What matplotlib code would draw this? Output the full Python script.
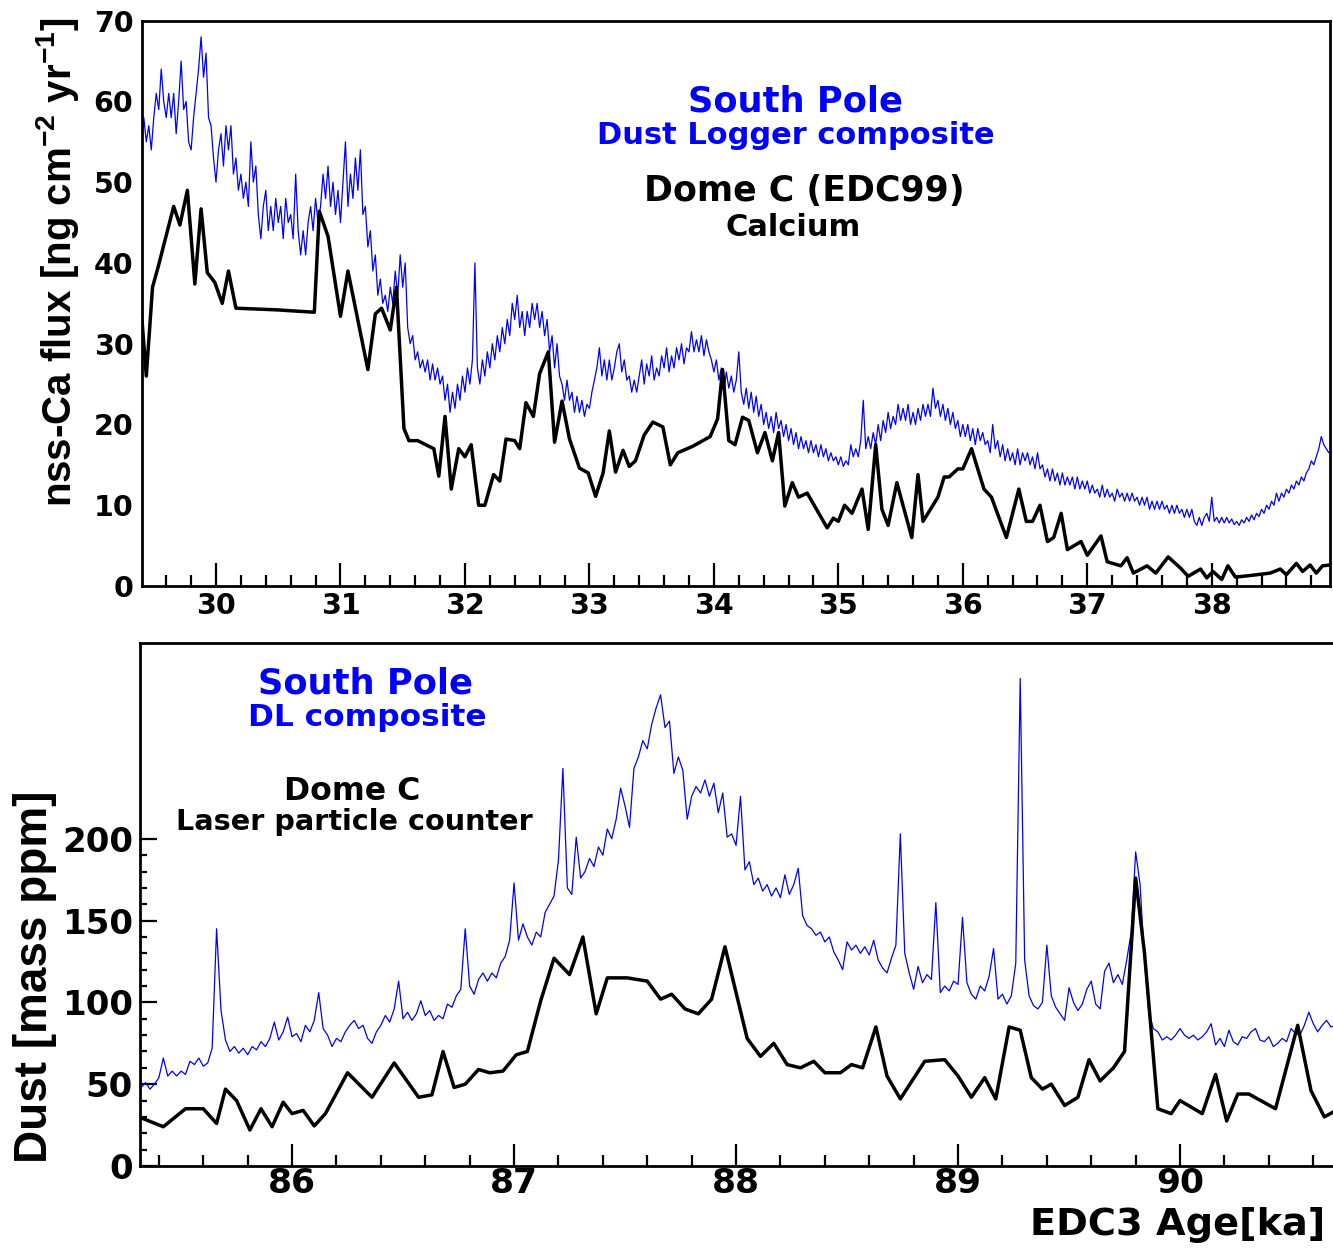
import numpy as np
import matplotlib
matplotlib.use("Agg")
import matplotlib.pyplot as plt
from matplotlib.ticker import MultipleLocator, FixedLocator

plt.rcParams['font.family'] = ['DejaVu Sans']
plt.rcParams['font.weight'] = 'bold'
plt.rcParams['mathtext.fontset'] = 'custom'
plt.rcParams['mathtext.rm'] = 'Liberation Sans:bold'
plt.rcParams['mathtext.it'] = 'Liberation Sans:bold'
plt.rcParams['mathtext.bf'] = 'Liberation Sans:bold'

# ---- top panel: South Pole dust logger composite (nss-Ca flux), 0.02 ka grid
sp_ca_start = 29.40
sp_ca_step = 0.02
sp_ca = [
    54, 58, 55, 57, 54, 58, 61, 59, 64, 60, 58, 61, 58, 61, 56, 60, 65, 59, 60, 55,
    54, 58, 61, 64, 68, 63, 66, 58, 57, 53, 50, 54, 56, 52, 57, 54, 57, 51, 53, 49,
    51, 48, 50, 47, 55, 50, 52, 46, 43, 47, 49, 44, 47, 44, 48, 45, 47, 43, 48, 45,
    46, 43, 51, 44, 41, 44, 41, 45, 47, 44, 48, 45, 47, 51, 48, 52, 47, 50, 46, 49,
    45, 50, 55, 47, 51, 48, 53, 49, 54, 46, 47, 42, 44, 39, 41, 36, 38, 35, 36, 34,
    37, 35, 39, 36, 41, 37, 40, 32, 30, 31, 28, 29, 27, 28, 26.5, 28, 25.5, 27.5, 25.5, 27,
    25, 26, 23, 25, 21.5, 24, 22, 25, 23, 26, 24, 27, 25, 28, 40, 27, 25, 28, 26, 29,
    27, 30, 28, 31, 29, 32, 30, 33, 31, 35, 33, 36, 32, 34, 31, 34, 32, 35, 33, 35,
    32, 34, 31, 33, 29, 31, 27, 30, 26, 25, 23, 25.5, 23, 24, 21.5, 23.5, 21.5, 23, 21, 22.5,
    22, 24, 25.5, 27, 29.5, 26, 28, 25.5, 28, 25.5, 27, 29, 30, 26.5, 28, 25.5, 26, 24, 25.5, 24,
    26, 28, 25, 27.5, 26, 28.5, 25.5, 27, 26, 28.5, 27, 29.5, 26.5, 28.5, 27, 29.5, 28, 30, 27.5, 29.5,
    29, 31.5, 29, 30.5, 29, 31, 28.5, 30.5, 29, 28, 26.5, 28, 25.5, 27, 24, 26.5, 24.5, 26, 24, 25.5,
    29, 24, 22.5, 24.5, 22, 24, 21.5, 23.5, 21, 22.5, 20, 21.5, 19.5, 21, 19, 21.5, 19.5, 20.5, 18.5, 20,
    18, 19.5, 17.5, 19, 17, 18.5, 17, 18, 16.5, 18, 16.5, 17.5, 16, 17.5, 16, 17, 15.5, 16.5, 15.5, 16,
    15, 16, 14.8, 15.5, 15, 17.5, 16, 17, 16, 18, 23, 17, 18.5, 17, 19, 17.5, 20, 18, 20.5, 19,
    21.5, 19.5, 21, 20, 22.5, 20.5, 22, 20.5, 22.5, 20, 21.5, 20, 22, 20.5, 22.5, 21, 22.5, 21, 24.5, 22,
    23, 21, 22.5, 20.5, 22, 20, 21.5, 19.5, 20.5, 18.5, 20, 18.5, 20, 18, 19.5, 17.5, 19.5, 18, 19, 17.5,
    18, 16.5, 20, 17, 18, 16, 17.5, 15.5, 17, 15.5, 16.5, 15, 17, 15, 16.5, 15.5, 16.5, 15, 16, 14.5,
    16.5, 14.5, 15, 13.5, 14.5, 13, 14.5, 13, 14, 12.5, 14, 12.5, 13.5, 12.5, 13.5, 12, 13.5, 12, 13, 12,
    13, 11.5, 12.5, 11.5, 12, 11, 12.5, 11, 12, 11, 11.5, 10.5, 12, 11, 11.5, 10.5, 11.5, 10.5, 11.5, 10.5,
    11, 10, 11, 10, 11, 9.5, 10.5, 9.5, 10.5, 9.5, 10.5, 9.5, 10, 9, 10, 9, 10, 9, 9.5, 8.5,
    9.5, 8.5, 9.5, 8, 7.5, 8.5, 7.5, 8.5, 9, 8, 11, 8, 8.5, 7.8, 8.5, 7.8, 8.5, 7.8, 8.3, 7.6,
    8, 7.5, 8.2, 7.8, 8.5, 8, 8.8, 8.2, 9, 8.6, 9.5, 9, 10, 9.5, 10.5, 10, 11.5, 10.5, 11.5, 11,
    12, 11.5, 12.5, 12, 13, 12.5, 13.5, 13, 14, 14.5, 15.5, 15, 16, 17, 18.5, 17.5, 17, 16.5, 16.5, 16,
]

# ---- top panel: Dome C (EDC99) calcium flux
edc_age = [29.40, 29.44, 29.49, 29.535, 29.66, 29.71, 29.77, 29.83, 29.88, 29.93,
           29.99, 30.05, 30.10, 30.16, 30.48, 30.79, 30.83, 30.90, 31.00, 31.06,
           31.22, 31.28, 31.33, 31.40, 31.45, 31.51, 31.55, 31.62, 31.75, 31.79,
           31.84, 31.89, 31.95, 32.00, 32.05, 32.11, 32.16, 32.23, 32.28, 32.33,
           32.40, 32.44, 32.49, 32.55, 32.60, 32.67, 32.72, 32.78, 32.84, 32.92,
           32.99, 33.05, 33.11, 33.16, 33.21, 33.27, 33.32, 33.37, 33.44, 33.51,
           33.59, 33.65, 33.71, 33.83, 33.97, 34.03, 34.07, 34.12, 34.17, 34.23,
           34.28, 34.35, 34.41, 34.47, 34.52, 34.57, 34.63, 34.68, 34.75, 34.91,
           34.96, 35.00, 35.05, 35.11, 35.19, 35.24, 35.30, 35.35, 35.40, 35.47,
           35.59, 35.64, 35.68, 35.80, 35.85, 35.89, 35.96, 36.00, 36.07, 36.17,
           36.23, 36.35, 36.45, 36.51, 36.56, 36.62, 36.68, 36.73, 36.79, 36.84,
           36.95, 37.00, 37.11, 37.16, 37.27, 37.32, 37.37, 37.48, 37.55, 37.65,
           37.75, 37.81, 37.91, 37.96, 38.01, 38.08, 38.13, 38.19, 38.31, 38.47,
           38.55, 38.60, 38.68, 38.73, 38.79, 38.84, 38.89, 38.95]
edc_ca = [34, 26, 37, 39.5, 47, 44.7, 49, 37.4, 46.7, 38.8,
          37.6, 35, 39, 34.4, 34.2, 33.9, 46.4, 43.3, 33.4, 39,
          26.8, 33.7, 34.4, 31.7, 37, 19.5, 18, 18, 17, 13.6,
          21, 12, 17, 16, 17.5, 10, 10, 13.8, 13, 18.2,
          18, 17, 22.7, 21, 26.3, 29, 17.8, 22.9, 18.2, 14.6,
          14, 11.1, 14, 19.2, 14.1, 16.8, 14.8, 15.5, 18.7, 20.3,
          19.7, 15, 16.5, 17.3, 18.5, 20.7, 26.8, 18, 17.5, 20.9,
          20.5, 16.5, 19, 15.5, 19, 9.9, 12.8, 11, 11.5, 7.2,
          8.4, 8, 10, 9, 12, 7, 17.5, 9.5, 7.5, 12.8,
          6, 13.8, 8, 11, 13.5, 13.5, 14.5, 14.5, 17, 12,
          11, 6, 12, 8, 8, 10, 5.5, 6, 9, 4.5,
          5.5, 3.8, 6.2, 3, 2.5, 3.5, 1.6, 2.5, 1.6, 3.6,
          2.2, 1.2, 2.1, 1, 1.8, 0.8, 2.5, 1.1, 1.3, 1.6,
          2.1, 1.4, 2.8, 1.8, 2.6, 1.6, 2.5, 2.6]

# ---- bottom panel: South Pole DL composite dust, 0.02 ka grid
sp_dust_start = 85.30
sp_dust_step = 0.02
sp_dust = [
    52, 48, 51, 47, 50, 54, 66, 55, 58, 55,
    58, 56, 64, 62, 66, 61, 63, 72, 145, 95,
    77, 70, 73, 69, 72, 68, 73, 71, 76, 73,
    78, 88, 77, 82, 91, 79, 81, 76, 86, 82,
    89, 106, 84, 80, 73, 78, 76, 82, 86, 89,
    84, 86, 78, 75, 82, 86, 92, 88, 96, 113,
    90, 94, 89, 93, 101, 92, 95, 89, 92, 90,
    99, 97, 104, 108, 145, 110, 105, 114, 118, 113,
    118, 115, 124, 128, 138, 173, 138, 148, 140, 135,
    143, 140, 155, 160, 165, 187, 243, 170, 166, 201,
    176, 180, 188, 183, 195, 190, 206, 200, 212, 231,
    220, 207, 243, 250, 260, 255, 270, 280, 288, 268,
    272, 240, 250, 242, 212, 226, 232, 228, 236, 226,
    234, 216, 228, 201, 203, 196, 226, 181, 186, 172,
    176, 168, 172, 165, 170, 164, 178, 166, 172, 182,
    153, 147, 145, 141, 143, 137, 140, 131, 126, 120,
    137, 132, 135, 130, 134, 129, 138, 126, 121, 118,
    127, 135, 203, 130, 118, 108, 122, 112, 117, 114,
    161, 106, 110, 107, 113, 111, 152, 112, 105, 102,
    110, 107, 116, 133, 102, 105, 99, 104, 124, 298,
    126, 104, 98, 96, 100, 135, 104, 97, 93, 89,
    109, 100, 95, 99, 108, 113, 99, 96, 119, 124,
    112, 117, 111, 126, 143, 192, 172, 125, 93, 84,
    82, 77, 79, 77, 80, 84, 80, 78, 80, 77,
    79, 82, 87, 74, 78, 73, 83, 76, 74, 79,
    78, 82, 84, 77, 76, 79, 73, 75, 78, 76,
    84, 81, 80, 86, 94, 87, 82, 86, 89, 85,
    86,
]

# ---- bottom panel: Dome C laser particle counter
lpc_age = [85.31, 85.42, 85.52, 85.60, 85.66, 85.70, 85.75, 85.81, 85.86, 85.91,
           85.96, 86.00, 86.05, 86.10, 86.15, 86.25, 86.36, 86.46, 86.57, 86.63,
           86.68, 86.73, 86.78, 86.84, 86.89, 86.95, 87.01, 87.06, 87.12, 87.18,
           87.25, 87.31, 87.37, 87.42, 87.51, 87.60, 87.66, 87.71, 87.77, 87.83,
           87.89, 87.95, 88.05, 88.11, 88.17, 88.23, 88.29, 88.35, 88.40, 88.47,
           88.52, 88.57, 88.63, 88.68, 88.74, 88.85, 88.94, 89.00, 89.06, 89.12,
           89.17, 89.23, 89.28, 89.33, 89.38, 89.42, 89.48, 89.54, 89.59, 89.64,
           89.70, 89.75, 89.80, 89.84, 89.90, 89.96, 90.00, 90.10, 90.16, 90.21,
           90.26, 90.31, 90.43, 90.53, 90.59, 90.65, 90.69]
lpc_dust = [30, 24, 35, 35, 26, 47, 40, 22, 35, 24,
            39, 32, 34, 24.5, 32, 57, 42, 63, 42, 43.5,
            70, 48, 50, 59, 57, 58, 68, 70, 101, 127,
            117, 140, 93, 115, 115, 113, 102, 105, 96, 93,
            102, 134, 78, 67, 75, 62, 60, 64, 57, 57,
            62, 60, 85, 55, 41, 64, 65, 55, 42, 54,
            41, 85, 83, 54, 47, 50, 37, 42, 65, 52,
            60, 70, 176, 130, 35, 32, 40, 32, 56, 27.5,
            44, 44, 35, 86, 46, 30, 33]

W, H = 1333, 1249
fig = plt.figure(figsize=(W / 100, H / 100), dpi=100)

blue = '#0000ff'

# top panel
ax1 = fig.add_axes([141.7 / W, 1 - 586 / H, (1330 - 141.7) / W, (586 - 20.7) / H])
sp_ca_age = sp_ca_start + sp_ca_step * np.arange(len(sp_ca))
ax1.plot(sp_ca_age, sp_ca, color=blue, lw=0.9)
ax1.plot(edc_age, edc_ca, color='black', lw=2.5)
ax1.set_xlim(29.403, 38.95)
ax1.set_ylim(0, 70)
ax1.xaxis.set_major_locator(MultipleLocator(1))
ax1.xaxis.set_minor_locator(MultipleLocator(0.2))
ax1.yaxis.set_major_locator(MultipleLocator(10))
ax1.tick_params(axis='x', which='major', direction='in', length=16.5, width=1.6,
                labelsize=20.5, pad=4)
ax1.tick_params(axis='x', which='minor', direction='in', length=8, width=1.6)
ax1.tick_params(axis='y', which='both', length=0, labelsize=20.5, pad=6)
for s in ax1.spines.values():
    s.set_linewidth(2.0)

fig.text(58 / W, 1 - 262 / H, r'nss-Ca flux [ng cm$^{-2}$ yr$^{-1}$]',
         rotation=90, ha='center', va='center', fontsize=29,
         family='Liberation Sans', weight='bold')

fig.text(795 / W, 1 - 111 / H, 'South Pole', color=blue, fontsize=25.4,
         ha='center', va='baseline')
fig.text(795.5 / W, 1 - 144 / H, 'Dust Logger composite', color=blue, fontsize=22,
         ha='center', va='baseline')
fig.text(804 / W, 1 - 201.5 / H, 'Dome C (EDC99)', color='black', fontsize=25,
         ha='center', va='baseline')
fig.text(793.5 / W, 1 - 236 / H, 'Calcium', color='black', fontsize=22,
         ha='center', va='baseline')

# bottom panel
ax2 = fig.add_axes([140 / W, 1 - 1166 / H, (W - 140) / W, (1166 - 642.5) / H])
sp_dust_age = sp_dust_start + sp_dust_step * np.arange(len(sp_dust))
ax2.plot(sp_dust_age, sp_dust, color=blue, lw=0.9)
ax2.plot(lpc_age, lpc_dust, color='black', lw=2.5)
ax2.set_xlim(85.315, 90.689)
ax2.set_ylim(0, 320)
ax2.xaxis.set_major_locator(MultipleLocator(1))
ax2.xaxis.set_minor_locator(MultipleLocator(0.2))
ax2.yaxis.set_major_locator(FixedLocator([0, 50, 100, 150, 200]))
ax2.yaxis.set_minor_locator(FixedLocator(np.arange(0, 201, 10)))
ax2.tick_params(axis='x', which='major', direction='in', length=16, width=1.6,
                labelsize=24.8, pad=1)
ax2.tick_params(axis='x', which='minor', direction='in', length=8, width=1.6)
ax2.tick_params(axis='y', which='major', direction='in', length=12, width=1.6,
                labelsize=24.5, pad=5)
ax2.tick_params(axis='y', which='minor', direction='in', length=5, width=1.6)
ax2.spines['right'].set_visible(False)
for s in ax2.spines.values():
    s.set_linewidth(2.0)

fig.text(35 / W, 1 - 977 / H, 'Dust [mass ppm]', rotation=90, ha='center',
         va='center', fontsize=33, family='Liberation Sans', weight='bold')

fig.text(365.5 / W, 1 - 694 / H, 'South Pole', color=blue, fontsize=25.4,
         ha='center', va='baseline')
fig.text(367 / W, 1 - 726 / H, 'DL composite', color=blue, fontsize=22.5,
         ha='center', va='baseline')
fig.text(352 / W, 1 - 800 / H, 'Dome C', color='black', fontsize=22.7,
         ha='center', va='baseline')
fig.text(354 / W, 1 - 830 / H, 'Laser particle counter', color='black', fontsize=20.6,
         ha='center', va='baseline')

fig.text(1325 / W, 1 - 1235 / H, 'EDC3 Age[ka]', fontsize=27.5, ha='right',
         va='baseline')

fig.savefig('out.png', dpi=100)
